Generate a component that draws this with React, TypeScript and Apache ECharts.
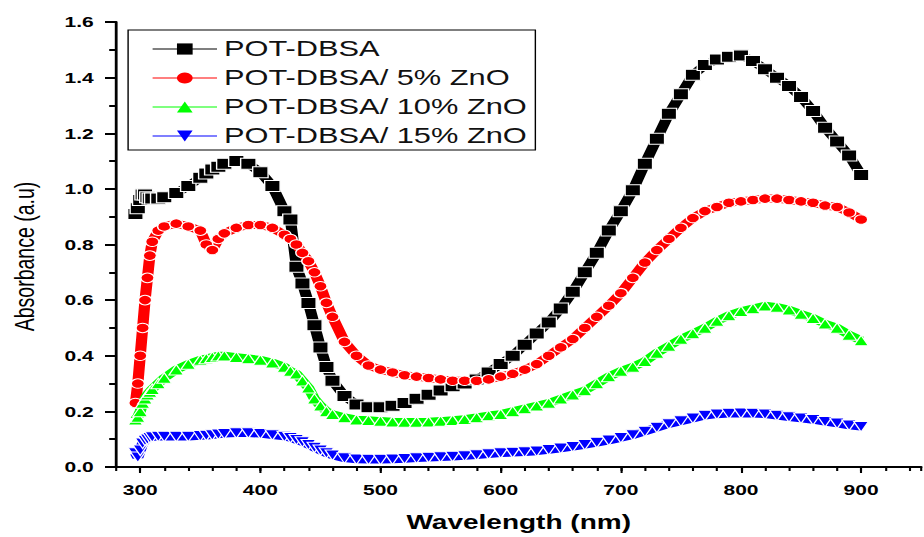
import React, { useEffect, useRef } from "react";
import * as echarts from "echarts";

const WAVELENGTH = [296, 298, 300, 302, 304, 306, 308, 310, 315, 320, 330, 340, 350, 355, 360, 365, 370, 380, 390, 400, 410, 420, 425, 430, 435, 440, 445, 450, 455, 460, 470, 480, 490, 500, 510, 520, 530, 540, 550, 560, 570, 580, 590, 600, 610, 620, 630, 640, 650, 660, 670, 680, 690, 700, 710, 720, 730, 740, 750, 760, 770, 780, 790, 800, 810, 820, 830, 840, 850, 860, 870, 880, 890, 900];

const POT_DBSA = [0.91, 0.93, 0.96, 0.98, 0.98, 0.97, 0.965, 0.965, 0.965, 0.97, 0.985, 1.01, 1.04, 1.055, 1.07, 1.08, 1.09, 1.1, 1.09, 1.06, 1.01, 0.92, 0.89, 0.72, 0.66, 0.59, 0.51, 0.43, 0.36, 0.31, 0.255, 0.225, 0.215, 0.215, 0.22, 0.23, 0.245, 0.26, 0.275, 0.29, 0.3, 0.315, 0.34, 0.37, 0.4, 0.44, 0.48, 0.52, 0.57, 0.63, 0.7, 0.77, 0.85, 0.92, 0.995, 1.09, 1.18, 1.27, 1.34, 1.41, 1.445, 1.465, 1.475, 1.48, 1.46, 1.43, 1.4, 1.37, 1.33, 1.28, 1.22, 1.17, 1.12, 1.05];

const ZNO_5 = [0.23, 0.3, 0.4, 0.5, 0.6, 0.68, 0.76, 0.81, 0.85, 0.865, 0.875, 0.865, 0.85, 0.8, 0.78, 0.82, 0.84, 0.86, 0.87, 0.87, 0.86, 0.835, 0.82, 0.8, 0.77, 0.74, 0.7, 0.65, 0.59, 0.54, 0.45, 0.4, 0.365, 0.35, 0.34, 0.33, 0.325, 0.32, 0.315, 0.31, 0.31, 0.31, 0.315, 0.325, 0.335, 0.35, 0.37, 0.4, 0.43, 0.46, 0.5, 0.54, 0.58, 0.625, 0.68, 0.735, 0.78, 0.82, 0.86, 0.895, 0.92, 0.935, 0.95, 0.955, 0.96, 0.965, 0.965, 0.96, 0.955, 0.95, 0.94, 0.935, 0.915, 0.89];

const ZNO_10 = [0.17, 0.18, 0.2, 0.23, 0.245, 0.26, 0.27, 0.28, 0.3, 0.32, 0.35, 0.37, 0.385, 0.39, 0.395, 0.4, 0.4, 0.395, 0.39, 0.385, 0.375, 0.36, 0.345, 0.335, 0.31, 0.285, 0.245, 0.22, 0.2, 0.19, 0.178, 0.17, 0.168, 0.165, 0.163, 0.162, 0.162, 0.163, 0.165, 0.168, 0.172, 0.178, 0.185, 0.19, 0.2, 0.21, 0.22, 0.23, 0.245, 0.26, 0.275, 0.3, 0.325, 0.345, 0.36, 0.38, 0.41, 0.435, 0.46, 0.48, 0.5, 0.525, 0.545, 0.56, 0.57, 0.58, 0.575, 0.565, 0.55, 0.535, 0.515, 0.5, 0.475, 0.455];

const ZNO_15 = [0.05, 0.035, 0.06, 0.085, 0.095, 0.1, 0.105, 0.108, 0.11, 0.11, 0.11, 0.11, 0.112, 0.113, 0.115, 0.118, 0.12, 0.122, 0.122, 0.12, 0.115, 0.11, 0.105, 0.098, 0.09, 0.08, 0.07, 0.06, 0.05, 0.042, 0.032, 0.028, 0.027, 0.027, 0.028, 0.03, 0.032, 0.034, 0.036, 0.038, 0.04, 0.043, 0.047, 0.05, 0.052, 0.054, 0.057, 0.062, 0.067, 0.073, 0.08, 0.088, 0.096, 0.105, 0.115, 0.128, 0.142, 0.155, 0.165, 0.175, 0.185, 0.19, 0.192, 0.193, 0.192, 0.19, 0.185, 0.18, 0.175, 0.17, 0.163, 0.157, 0.15, 0.145];

const SERIES_NAMES = ["POT-DBSA", "POT-DBSA/ 5% ZnO", "POT-DBSA/ 10% ZnO", "POT-DBSA/ 15% ZnO"];
const X_MAJOR_TICKS = [300, 400, 500, 600, 700, 800, 900];

const STRETCH = 1.4;
const PAGE_W = 924;
const PAGE_H = 537;
const FONT = "'Liberation Sans', Arial, sans-serif";

export default function App() {
  const ref = useRef<HTMLDivElement>(null);

  useEffect(() => {
    if (!ref.current) return;
    const chart = echarts.init(ref.current, undefined, { renderer: "svg" });
    const toPairs = (vals: number[]) => WAVELENGTH.map((w, i) => [w, vals[i]]);
    const styles = [
      { color: "#000000", symbol: "rect", size: 11, rotate: 0 },
      { color: "#ff0000", symbol: "circle", size: 9.5, rotate: 0 },
      { color: "#00ff00", symbol: "triangle", size: 10.5, rotate: 0 },
      { color: "#0000ff", symbol: "triangle", size: 10.5, rotate: 180 },
    ];
    const values = [POT_DBSA, ZNO_5, ZNO_10, ZNO_15];
    const xMin = 280;
    const xMax = 950;
    chart.setOption({
      animation: false,
      backgroundColor: "#ffffff",
      grid: { left: 79, right: 2, top: 22, bottom: 69, containLabel: false },
      legend: {
        orient: "vertical",
        left: 91.5,
        top: 30,
        padding: [8, 6, 3, 17],
        itemWidth: 46,
        itemHeight: 14,
        itemGap: 7,
        borderColor: "#000",
        borderWidth: 1,
        backgroundColor: "#fff",
        data: SERIES_NAMES,
        textStyle: { fontFamily: FONT, fontSize: 22, color: "#111", lineHeight: 21 },
        itemStyle: { borderWidth: 0 },
        lineStyle: { width: 1 },
      },
      xAxis: [
        {
          type: "value",
          min: xMin,
          max: xMax,
          position: "bottom",
          name: "Wavelength (nm)",
          nameLocation: "middle",
          nameGap: 45,
          nameTextStyle: { fontFamily: FONT, fontSize: 20, fontWeight: "bold", color: "#000" },
          axisLine: { show: true, onZero: false, lineStyle: { color: "#000", width: 2 } },
          axisTick: { show: true, length: 6, customValues: X_MAJOR_TICKS, lineStyle: { color: "#000", width: 1.5 } },
          axisLabel: { customValues: X_MAJOR_TICKS, margin: 15, fontFamily: FONT, fontSize: 15, fontWeight: "bold", color: "#000" },
          splitLine: { show: false },
        },
        {
          type: "value",
          min: xMin,
          max: xMax,
          interval: 20,
          position: "bottom",
          offset: 0,
          axisLine: { show: false, onZero: false },
          axisTick: { show: true, length: 4, lineStyle: { color: "#000", width: 1.5 } },
          axisLabel: { show: false },
          splitLine: { show: false },
        },
      ],
      yAxis: {
        type: "value",
        min: 0,
        max: 1.6,
        interval: 0.2,
        name: "Absorbance (a.u)",
        nameLocation: "middle",
        nameGap: 55,
        nameTextStyle: { fontFamily: FONT, fontSize: 19.5, color: "#000", padding: [0, 24, 0, 0] },
        axisLine: { show: true, lineStyle: { color: "#000", width: 2 } },
        axisTick: { show: true, length: 8, lineStyle: { color: "#000", width: 2 } },
        minorTick: { show: true, splitNumber: 2, length: 5, lineStyle: { color: "#000", width: 2 } },
        axisLabel: {
          margin: 16,
          fontFamily: FONT,
          fontSize: 15,
          fontWeight: "bold",
          color: "#000",
          formatter: (v: number) => v.toFixed(1),
        },
        splitLine: { show: false },
      },
      series: values.map((vals, i) => ({
        type: "line",
        name: SERIES_NAMES[i],
        xAxisIndex: 0,
        data: toPairs(vals),
        symbol: styles[i].symbol,
        symbolSize: styles[i].size,
        symbolRotate: styles[i].rotate,
        showSymbol: true,
        itemStyle: { color: styles[i].color, borderColor: "#ffffff", borderWidth: 1 },
        lineStyle: { color: styles[i].color, width: 8 },
        emphasis: { disabled: true },
      })),
    });
    return () => chart.dispose();
  }, []);

  return (
    <div
      ref={ref}
      style={{
        position: "fixed",
        left: 0,
        top: 0,
        width: PAGE_W / STRETCH,
        height: PAGE_H,
        transform: `scaleX(${STRETCH})`,
        transformOrigin: "0 0",
        background: "#fff",
      }}
    />
  );
}
